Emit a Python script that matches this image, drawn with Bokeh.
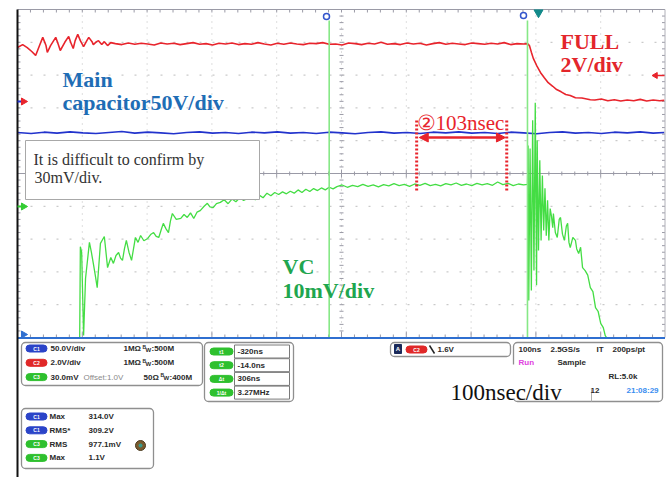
import numpy as np
from bokeh.plotting import figure
from bokeh.models import Range1d, Arrow, NormalHead
from bokeh.core.properties import value
from bokeh.embed import file_html
from bokeh.resources import INLINE

# ---------------- data (time in ns relative to trigger, level in divisions) ----------------
red_t = [-801, -793, -786, -779, -773, -767, -762, -757, -755, -750, -742, -738, -735, -728,
         -722, -719, -715, -712, -708, -704, -699, -694, -691, -686, -684, -679, -676, -671,
         -667, -662, -657,
         -650, -640, -630, -620, -610, -600, -590, -580,
         -570, -560, -550, -540, -530, -520, -510, -500,
         -490, -480, -470, -460, -450, -440, -430, -420,
         -410, -400, -390, -380, -370, -360, -350, -340,
         -330, -320, -310, -300, -290, -280, -270, -260,
         -250, -240, -230, -220, -210, -200, -190, -180,
         -170, -160, -150, -140, -130, -120, -110, -100,
         -90, -80, -70, -60, -50, -40, -30, -20,
         -14, -11, -8, -5, 0, 6, 12, 18, 25, 31, 38, 45, 52, 60, 70, 83, 90,
         100, 110, 120, 130, 140, 150, 160, 170, 180, 190, 197]
red_v = [3.84, 3.93, 3.84, 3.72, 3.60, 3.90, 4.15, 3.90, 3.69, 3.90, 4.15, 3.93, 3.75, 4.00,
         4.18, 4.00, 3.81, 4.05, 4.24, 4.05, 3.87, 4.05, 4.15, 4.02, 3.93, 4.02, 4.05, 3.93,
         4.02, 3.90, 3.99,
         3.96, 3.93, 3.98, 3.94, 3.97, 3.95, 3.92, 3.98,
         3.95, 3.97, 3.93, 3.96, 3.99, 3.94, 3.96, 3.92,
         3.97, 3.95, 3.98, 3.93, 3.96, 3.94, 3.99, 3.95,
         3.92, 3.97, 3.94, 3.98, 3.95, 3.93, 3.97, 3.96,
         3.99, 3.94, 3.95, 3.92, 3.98, 3.96, 3.93, 3.97,
         3.95, 4.00, 3.94, 3.96, 3.93, 3.98, 3.95, 3.97,
         3.92, 3.96, 3.99, 3.94, 3.97, 3.95, 3.93, 3.98,
         3.96, 3.94, 3.97, 3.95, 3.99, 3.93, 3.96, 3.95,
         3.96, 3.90, 3.70, 3.51, 3.30, 3.08, 2.92, 2.77, 2.66, 2.56, 2.49, 2.41, 2.38, 2.31, 2.30, 2.25, 2.24,
         2.27, 2.22, 2.25, 2.21, 2.24, 2.22, 2.26, 2.21, 2.24, 2.22, 2.23]

blue_t = [-801, -780, -760, -740, -720, -700, -680, -660, -640, -620, -600, -580, -560,
          -540, -520, -500, -480, -460, -440, -420, -400, -380, -360, -340, -320, -300,
          -280, -260, -240, -220, -200, -180, -160, -140, -120, -100, -80, -60, -40,
          -20, 0, 20, 40, 60, 80, 100, 120, 140, 160, 180, 197]
blue_v = [1.25, 1.22, 1.26, 1.23, 1.27, 1.24, 1.22, 1.25, 1.28, 1.23, 1.26, 1.24, 1.21,
          1.25, 1.27, 1.23, 1.25, 1.22, 1.26, 1.24, 1.27, 1.23, 1.25, 1.22, 1.26, 1.24,
          1.21, 1.25, 1.27, 1.23, 1.25, 1.22, 1.26, 1.24, 1.27, 1.23, 1.25, 1.22, 1.26,
          1.24, 1.21, 1.25, 1.27, 1.23, 1.25, 1.22, 1.26, 1.24, 1.27, 1.23, 1.25]

green_t = [-705, -704, -702, -699, -696, -690, -687, -684, -681, -678, -673, -667, -662,
           -657, -653, -649, -645, -642, -639, -636, -633, -629, -625, -619, -615, -611,
           -606, -600, -595, -591, -587, -583, -579, -576, -572, -568, -565, -562, -556,
           -549, -544, -539, -534, -529, -524, -519, -513, -508, -504, -499, -494, -488,
           -482, -476, -470, -464, -458, -452, -446, -440, -434, -428, -422, -416, -410,
           -404, -398, -392, -386, -380, -374, -368, -362, -356, -350, -344, -338, -332,
           -326, -320, -314,
           -308, -300, -292, -284, -276, -268, -260, -252, -244, -236, -228, -220, -212,
           -204, -196, -188, -180, -172, -164, -156, -148, -140, -132, -124, -116, -108,
           -100, -92, -84, -76, -68, -60, -52, -44, -36, -28, -20, -14,
           -13, -12, -10, -8, -6, -4, -2, 0, 1, 3, 5, 7, 9, 11, 13, 15, 17, 19, 21, 23,
           25, 26, 29, 32, 35, 37, 40, 43, 46, 48, 50, 52, 56, 60, 62, 65, 68, 71, 75,
           79, 83, 87, 91, 95, 99, 103, 106, 108]
green_v = [-5.00, -2.23, -2.40, -4.94, -3.20, -2.10, -2.40, -2.74, -3.10, -3.48, -2.13, -1.92, -2.87,
           -2.56, -2.74, -2.50, -2.41, -2.58, -2.65, -2.30, -2.04, -2.40, -2.65, -1.95, -2.10, -1.89,
           -2.05, -1.98, -1.85, -1.80, -1.92, -1.95, -1.70, -1.52, -1.68, -1.80, -1.45, -1.22, -1.40,
           -1.37, -1.25, -1.34, -1.20, -1.37, -1.18, -1.13, -1.00, -0.91, -1.02, -1.04, -0.92, -0.88,
           -0.80, -0.92, -0.78, -0.86, -0.74, -0.82, -0.76, -0.70, -0.80, -0.66, -0.74, -0.60, -0.68,
           -0.58, -0.64, -0.56, -0.62, -0.54, -0.60, -0.50, -0.58, -0.48, -0.55, -0.46, -0.52, -0.44,
           -0.50, -0.42, -0.47,
           -0.40, -0.35, -0.42, -0.36, -0.40, -0.33, -0.39, -0.35, -0.41, -0.34, -0.38, -0.31, -0.37,
           -0.33, -0.39, -0.32, -0.36, -0.30, -0.37, -0.33, -0.38, -0.31, -0.35, -0.29, -0.36, -0.32,
           -0.37, -0.30, -0.35, -0.31, -0.36, -0.26, -0.34, -0.30, -0.37, -0.32, -0.35, -0.33,
           0.85, -3.87, 0.76, -3.57, 1.62, -2.96, 2.16, -3.41, 1.01, -2.35, 0.40, -2.04, -0.06, -1.74, -0.45, -1.90, -0.82, -2.04, -1.07, -1.30,
           -1.65, -1.22, -1.80, -1.95, -1.40, -1.34, -1.85, -2.04, -1.60, -1.52, -2.10, -2.26, -1.95, -2.04, -2.30, -2.44, -2.25, -2.87, -2.96,
           -3.10, -3.48, -3.60, -4.09, -4.20, -4.57, -4.70, -4.94, -5.00]

cursor_t = [-320, -14]              # t1, t2
meas_t = [-185, -46]                 # red dotted markers of the 103 ns annotation

ch_rows = [("C1", "50.0V/div", "", "1MΩ", "500M"),
           ("C2", "2.0V/div", "", "1MΩ", "500M"),
           ("C3", "30.0mV", "Offset:1.0V", "50Ω", "400M")]
cur_labels = ["t1", "t2", "Δt", "1/Δt"]
cur_values = ["-320ns", "-14.0ns", "306ns", "3.27MHz"]
meas_ch = ["C1", "C1", "C3", "C3"]
meas_names = ["Max", "RMS*", "RMS", "Max"]
meas_values = ["314.0V", "309.2V", "977.1mV", "1.1V"]

# ---------------- geometry helpers (page pixels -> data) ----------------
GX0, GY0, PXDIV, PYDIV = 17.0, 173.0, 64.8, 32.8
def X(px):
    return (px - GX0) / PXDIV * 100.0 - 801.0
def Y(py):
    return (GY0 - py) / PYDIV
def XL(pxs):
    return [X(v) for v in pxs]
def YL(pys):
    return [Y(v) for v in pys]

OX, OY = 0, 0          # page offset of the canvas
W, H = 670, 477
p = figure(width=W, height=H, output_backend="svg", toolbar_location=None,
           x_range=Range1d(X(OX), X(OX + W)), y_range=Range1d(Y(OY + H), Y(OY)),
           min_border=0, outline_line_color=None, background_fill_color="white",
           border_fill_color="white")
p.axis.visible = False
p.xgrid.visible = False
p.ygrid.visible = False

SERIF = value("Liberation Serif")
SANS = value("Liberation Sans")

# ---------------- graticule ----------------
top, bot, left, right = 9.0, 337.0, 17.0, 664.5
for k in range(1, 10):
    gx = X(left + PXDIV * k)
    p.line([gx, gx], [Y(top), Y(bot)], line_color="#bdbdbd", line_width=1, line_dash="1 5")
for k in range(1, 10):
    if k == 5:
        continue
    gy = Y(top + PYDIV * k)
    p.line([X(left), X(right)], [gy, gy], line_color="#bdbdbd", line_width=1, line_dash="2 11")
p.segment(x0=[X(left)], y0=[Y(173)], x1=[X(right)], y1=[Y(173)], line_color="#9a9aa6", line_width=1.2)

mx = [left + PXDIV / 5 * k for k in range(1, 50)]
major = [k % 5 == 0 for k in range(1, 50)]
p.segment(x0=XL(mx), y0=[Y(top)] * 49, x1=XL(mx), y1=[Y(top + 3)] * 49, line_color="#9a9aa6")
p.segment(x0=XL(mx), y0=[Y(bot)] * 49, x1=XL(mx), y1=[Y(bot - (6 if m else 3)) for m in major], line_color="#9a9aa6")
p.segment(x0=XL(mx), y0=[Y(173 - (4 if m else 2)) for m in major], x1=XL(mx),
          y1=[Y(173 + (4 if m else 2)) for m in major], line_color="#9a9aa6")
my = [top + PYDIV / 5 * k for k in range(1, 50)]
p.segment(x0=[X(left)] * 49, y0=YL(my), x1=[X(left + 3)] * 49, y1=YL(my), line_color="#9a9aa6")
p.segment(x0=[X(right)] * 49, y0=YL(my), x1=[X(right - 3)] * 49, y1=YL(my), line_color="#9a9aa6")
p.segment(x0=[X(339)] * 49, y0=YL(my), x1=[X(343)] * 49, y1=YL(my), line_color="#9a9aa6")

p.segment(x0=[X(left)], y0=[Y(top)], x1=[X(right)], y1=[Y(top)], line_color="#9a9aa6", line_width=1)
p.segment(x0=[X(right)], y0=[Y(top)], x1=[X(right)], y1=[Y(bot)], line_color="#b0b0b8", line_width=1)

# ---------------- traces ----------------
p.line(red_t, red_v, line_color="#e8242c", line_width=1.6)
p.line(blue_t, blue_v, line_color="#2233cc", line_width=1.6)
p.line(green_t, green_v, line_color="#44dd44", line_width=1.3)

for ct in cursor_t:
    p.segment(x0=[ct], y0=[Y(20)], x1=[ct], y1=[Y(338)], line_color="#86e886", line_width=1.6)

p.segment(x0=[X(left)], y0=[Y(337.5)], x1=[X(right)], y1=[Y(337.5)], line_color="#2f6fd0", line_width=2)
p.segment(x0=[X(left)], y0=[Y(top)], x1=[X(left)], y1=[Y(480)], line_color="#111111", line_width=2)

# markers
p.scatter(x=XL([326, 523]), y=YL([16, 15]), marker="circle", size=6, fill_color="white",
          line_color="#3355cc", line_width=1.5)
p.scatter(x=[X(538)], y=[Y(12)], marker="inverted_triangle", size=9, fill_color="#138a8a", line_color="#138a8a")
p.segment(x0=[X(17)], y0=[Y(101)], x1=[X(22)], y1=[Y(101)], line_color="#2233cc", line_width=2)
p.scatter(x=[X(23)], y=[Y(101)], marker="triangle", angle=-np.pi / 2, size=7, color="#e8242c")
p.scatter(x=[X(23)], y=[Y(206)], marker="triangle", angle=-np.pi / 2, size=7, color="#33cc33")
p.segment(x0=[X(17)], y0=[Y(206)], x1=[X(22)], y1=[Y(206)], line_color="#33cc33", line_width=2)
p.scatter(x=[X(23)], y=[Y(334)], marker="triangle", angle=-np.pi / 2, size=7, color="#2f6fd0")
p.segment(x0=[X(655)], y0=[Y(75)], x1=[X(664)], y1=[Y(75)], line_color="#e8242c", line_width=1.5)
p.scatter(x=[X(655)], y=[Y(75)], marker="triangle", angle=np.pi / 2, size=6, color="#e8242c")

# annotation box
p.quad(left=[X(25)], right=[X(259)], top=[Y(140)], bottom=[Y(199)], fill_color="white",
       line_color="#a8a8a8", line_width=1)
p.text(x=[X(33), X(34)], y=[Y(159), Y(177)], text=["It is difficult to confirm by", "30mV/div."],
       text_font=SERIF, text_font_size="16px", text_color="#333333", text_baseline="alphabetic")

p.text(x=[X(62), X(62)], y=[Y(79), Y(102)], text=["Main", "capacitor50V/div"],
       text_font=SERIF, text_font_size="22px", text_font_style="bold", text_color="#1f6db5",
       text_baseline="alphabetic")
p.text(x=[X(560), X(560)], y=[Y(41), Y(64)], text=["FULL", "2V/div"],
       text_font=SERIF, text_font_size="22px", text_font_style="bold", text_color="#e3262b",
       text_baseline="alphabetic")
p.text(x=[X(282), X(282)], y=[Y(266), Y(290)], text=["VC", "10mV/div"],
       text_font=SERIF, text_font_size="22px", text_font_style="bold", text_color="#1fa64f",
       text_baseline="alphabetic")

for mt in meas_t:
    p.line([mt, mt], [Y(120), Y(190)], line_color="#e8242c", line_width=3, line_dash="2 2")
arr = Arrow(x_start=meas_t[0] + 4, y_start=Y(137), x_end=meas_t[1] - 2, y_end=Y(137),
            line_color="#e8242c", line_width=2.5,
            start=NormalHead(size=9, fill_color="#e8242c", line_color="#e8242c"),
            end=NormalHead(size=9, fill_color="#e8242c", line_color="#e8242c"))
p.add_layout(arr)
p.text(x=[X(416)], y=[Y(122)], text=["②103nsec"], text_font=SERIF, text_font_size="21px",
       text_color="#e8242c", text_baseline="alphabetic")

# ---------------- info panels ----------------
BADGE = {"C1": "#2b44c8", "C2": "#e02828", "C3": "#2ec02e"}
PANEL_LINE = "#8f8f8f"

def panel(l, r, t, b):
    p.quad(left=[X(l)], right=[X(r)], top=[Y(t)], bottom=[Y(b)], fill_color="white",
           line_color=PANEL_LINE, line_width=1.3, border_radius=4)

def badge(cx, cy, label, color, w=21):
    p.quad(left=[X(cx - w / 2)], right=[X(cx + w / 2)], top=[Y(cy - 3.5)], bottom=[Y(cy + 3.5)],
           fill_color=color, line_color=color, border_radius=4)
    p.text(x=[X(cx)], y=[Y(cy)], text=[label], text_font=SANS, text_font_size="5px",
           text_font_style="bold", text_color="white", text_align="center", text_baseline="middle")

def txt(px, py, s, color="#2a2a2a", size="8px", style="bold", align="left"):
    p.text(x=[X(px)], y=[Y(py)], text=[s], text_font=SANS, text_font_size=size,
           text_font_style=style, text_color=color, text_baseline="middle", text_align=align)

panel(21, 202, 342, 385)
for i, (ch, vdiv, off, imp, bw) in enumerate(ch_rows):
    yy = 348 + i * 14.3
    badge(36, yy, ch, BADGE[ch])
    txt(50, yy, vdiv)
    if off:
        txt(83, yy, off, color="#8a8a8a", style="normal")
    ix = 123 if not off else 143
    txt(ix, yy, imp)
    bx = ix + (19 if not off else 17)
    txt(bx, yy - 2, "B", size="5px")
    txt(bx + 3, yy + 1, "W", size="6px")
    txt(bx + 9, yy, ":" + bw)

panel(204, 293, 342, 401)
for i, (lab, val) in enumerate(zip(cur_labels, cur_values)):
    yy = 351 + i * 13.7
    badge(221, yy, lab, "#2ec02e", w=23)
    p.quad(left=[X(234)], right=[X(289)], top=[Y(yy - 6.5)], bottom=[Y(yy + 6.5)],
           fill_color="white", line_color="#7a7a7a", line_width=1)
    txt(237, yy, val)

panel(21, 153, 408, 468)
for i, (ch, nm, val) in enumerate(zip(meas_ch, meas_names, meas_values)):
    yy = 416 + i * 13.8
    badge(36, yy, ch, BADGE[ch])
    txt(49, yy, nm)
    txt(88, yy, val)
p.scatter(x=[X(140)], y=[Y(445)], marker="circle", size=10, fill_color="#7a5a2e", line_color="#4a3a1e")
p.scatter(x=[X(140)], y=[Y(445)], marker="circle", size=4, fill_color="#3a9a8a", line_color=None)

panel(390, 510, 342, 356)
p.quad(left=[X(394)], right=[X(401)], top=[Y(344)], bottom=[Y(353)], fill_color="#1a2a5a", line_color="#1a2a5a")
p.text(x=[X(397.5)], y=[Y(348.5)], text=["A"], text_font=SANS, text_font_size="6px", text_font_style="bold",
       text_color="white", text_align="center", text_baseline="middle")
badge(416, 349, "C2", BADGE["C2"])
p.segment(x0=[X(429)], y0=[Y(345)], x1=[X(434)], y1=[Y(353)], line_color="#222222", line_width=1.5)
txt(437, 349, "1.6V")

panel(513, 662, 342, 401)
p.quad(left=[X(440)], right=[X(589)], top=[Y(364)], bottom=[Y(399)], fill_color="white", line_color=None)
p.segment(x0=[X(591)], y0=[Y(389)], x1=[X(591)], y1=[Y(401)], line_color="#b0b0b0")
txt(518, 349, "100ns")
txt(550, 349, "2.5GS/s")
txt(596, 349, "IT")
txt(612, 349, "200ps/pt")
txt(518, 362, "Run", color="#e040e0")
txt(557, 362, "Sample")
txt(608, 376, "RL:5.0k")
txt(590, 390, "12")
txt(626, 390, "21:08:29", color="#3a8ef0")
p.text(x=[X(450)], y=[Y(392)], text=["100nsec/div"], text_font=SERIF, text_font_size="23px",
       text_color="#111111", text_baseline="alphabetic")

open("out.html", "w").write(file_html(p, INLINE))
